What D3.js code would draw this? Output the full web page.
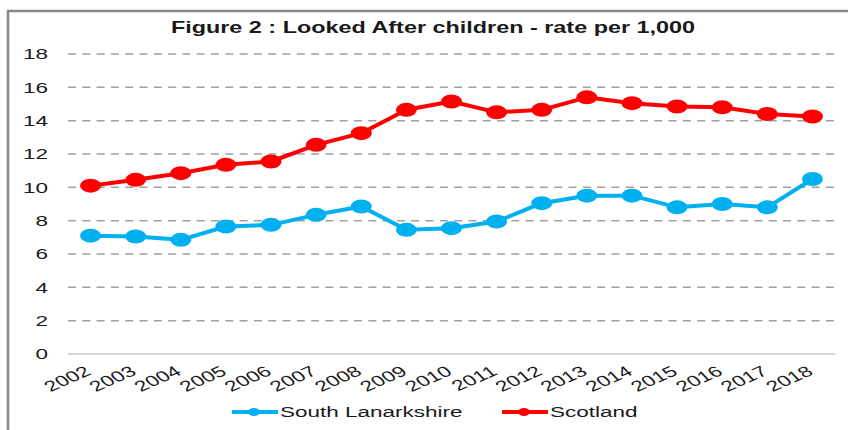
<!DOCTYPE html>
<html>
<head>
<meta charset="utf-8">
<script src="https://cdn.jsdelivr.net/npm/d3@7"></script>
<style>
  body { margin: 0; background: #fff; }
  text { font-family: "Liberation Sans", Arial, sans-serif; fill: #1a1a1a; }
</style>
</head>
<body>
<script>
const years = ['2002', '2003', '2004', '2005', '2006', '2007', '2008', '2009', '2010',
  '2011', '2012', '2013', '2014', '2015', '2016', '2017', '2018'];
const southLanarkshire = [7.1, 7.05, 6.85, 7.65, 7.75, 8.35, 8.85, 7.45, 7.55, 7.95, 9.05, 9.5, 9.5, 8.8, 9.0, 8.8, 10.5];
const scotland = [10.1, 10.45, 10.85, 11.35, 11.55, 12.55, 13.25, 14.65, 15.15, 14.5, 14.65, 15.4, 15.05, 14.85, 14.8, 14.4, 14.25];
const yTicks = [0, 2, 4, 6, 8, 10, 12, 14, 16, 18];
const series = [
  { name: 'South Lanarkshire', values: southLanarkshire, color: '#00b0f0' },
  { name: 'Scotland', values: scotland, color: '#ff0000' },
];

const W = 848, H = 430;
// the source image is stretched sideways, so text and markers get an x scale
const sx = 1.5;

let svg = d3.select('body').append('svg').attr('width', W).attr('height', H);

// outer frame
svg.append('rect')
  .attr('x', 8).attr('y', 11).attr('width', 900).attr('height', 500)
  .attr('fill', 'none').attr('stroke', '#868686').attr('stroke-width', 2.5);

let x = d3.scaleBand().domain(years).range([68, 835]);
let y = d3.scaleLinear().domain([0, 18]).range([354, 54]);
let cx = (d) => x(d) + x.bandwidth() / 2;

// title
svg.append('g')
  .attr('transform', `translate(433,33) scale(${sx},1)`)
  .append('text')
  .attr('text-anchor', 'middle')
  .style('font-size', '15.6px')
  .style('font-weight', 'bold')
  .text('Figure 2 : Looked After children - rate per 1,000');

// gridlines
svg.selectAll('line.grid')
  .data(yTicks)
  .enter()
  .append('line')
  .attr('class', 'grid')
  .attr('x1', 68).attr('x2', 835)
  .attr('y1', (d) => y(d)).attr('y2', (d) => y(d))
  .attr('stroke', (d) => (d === 0 ? '#c8c8c8' : '#a0a0a0'))
  .attr('stroke-width', 1.5)
  .attr('stroke-dasharray', (d) => (d === 0 ? null : '8,6.3'));

// y labels
svg.selectAll('g.ylab')
  .data(yTicks)
  .enter()
  .append('g')
  .attr('class', 'ylab')
  .attr('transform', (d) => `translate(48,${y(d)}) scale(${sx},1)`)
  .append('text')
  .attr('text-anchor', 'end')
  .attr('dy', '0.36em')
  .style('font-size', '15px')
  .text((d) => d);

// x labels
svg.selectAll('g.xlab')
  .data(years)
  .enter()
  .append('g')
  .attr('class', 'xlab')
  .attr('transform', (d) => `translate(${cx(d) + 2},374) scale(${sx},1) rotate(-33)`)
  .append('text')
  .attr('text-anchor', 'end')
  .style('font-size', '15px')
  .text((d) => d);

// lines + markers
let line = d3.line()
  .x((d, i) => cx(years[i]))
  .y((d) => y(d));

series.forEach((s) => {
  svg.append('path')
    .attr('d', line(s.values))
    .attr('fill', 'none')
    .attr('stroke', s.color)
    .attr('stroke-width', 4)
    .attr('stroke-linejoin', 'round');
  svg.selectAll(null)
    .data(s.values)
    .enter()
    .append('ellipse')
    .attr('cx', (d, i) => cx(years[i]))
    .attr('cy', (d) => y(d))
    .attr('rx', 10.5)
    .attr('ry', 7)
    .attr('fill', s.color);
});

// legend
let legendX = [232, 502];
series.forEach((s, i) => {
  let g = svg.append('g').attr('transform', `translate(${legendX[i]},412)`);
  g.append('line')
    .attr('x1', 0).attr('x2', 46).attr('y1', 0).attr('y2', 0)
    .attr('stroke', s.color).attr('stroke-width', 4);
  g.append('ellipse')
    .attr('cx', 22).attr('cy', 0).attr('rx', 6).attr('ry', 4)
    .attr('fill', s.color);
  g.append('g')
    .attr('transform', `translate(48,0) scale(${sx},1)`)
    .append('text')
    .attr('dy', '0.36em')
    .style('font-size', '15px')
    .text(s.name);
});
</script>
</body>
</html>
